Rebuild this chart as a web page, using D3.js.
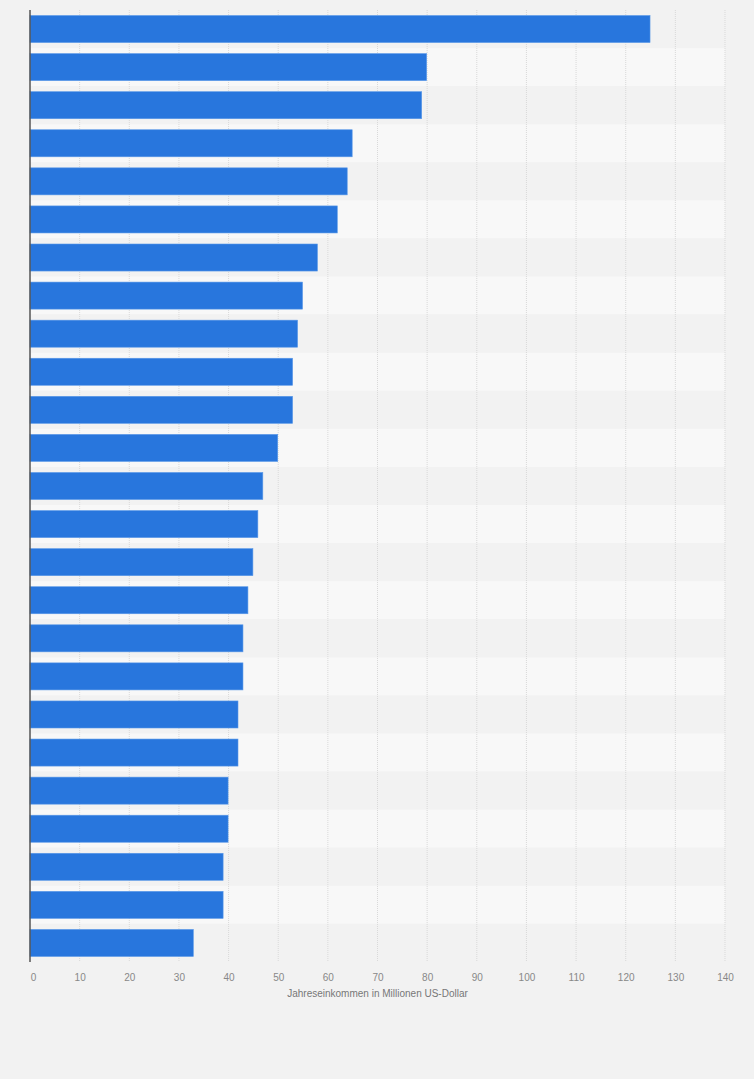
<!DOCTYPE html>
<html>
<head>
<meta charset="utf-8">
<script src="https://cdn.jsdelivr.net/npm/d3@7"></script>
<style>
  body { margin: 0; background: #f2f2f2; }
  text { font-family: "Liberation Sans", Arial, sans-serif; }
</style>
</head>
<body>
<div id="chart"></div>
<script>
// Data (Rang 1..25, labels not shown in the original)
var ranks = d3.range(1, 26).map(function(d) { return 'Rang ' + d; });
var incomes = [125, 80, 79, 65, 64, 62, 58, 55, 54, 53, 53, 50, 47, 46, 45, 44, 43, 43, 42, 42, 40, 40, 39, 39, 33];
var xTicks = [0, 10, 20, 30, 40, 50, 60, 70, 80, 90, 100, 110, 120, 130, 140];
var xTitle = 'Jahreseinkommen in Millionen US-Dollar';

// Set margin parameters
var margin = {top: 10, right: 29, bottom: 117, left: 30},
    width = 754 - margin.left - margin.right,
    height = 1079 - margin.top - margin.bottom;

var x = d3.scaleLinear().domain([0, 140]).range([0, width]);

var y = d3.scaleBand()
    .domain(ranks)
    .range([0, height])
    .paddingInner(0.29)
    .paddingOuter(0.145);

// band scale for the row stripes (no padding)
var yRow = d3.scaleBand().domain(ranks).range([0, height]);

var svg = d3.select('#chart')
    .append('svg')
    .attr('width', 754)
    .attr('height', 1079)
    .style('display', 'block');

svg.append('rect')
    .attr('width', 754)
    .attr('height', 1079)
    .attr('fill', '#f2f2f2');

var g = svg.append('g')
    .attr('transform', 'translate(' + margin.left + ',' + margin.top + ')');

// Alternating row stripes
g.selectAll('.row')
    .data(ranks)
    .enter().append('rect')
    .attr('class', 'row')
    .attr('x', 0)
    .attr('y', function(d) { return yRow(d); })
    .attr('width', width)
    .attr('height', yRow.bandwidth())
    .attr('fill', function(d, i) { return i % 2 ? '#f8f8f8' : '#f2f2f2'; });

// Vertical grid lines
g.selectAll('.grid')
    .data(xTicks.slice(1))
    .enter().append('line')
    .attr('class', 'grid')
    .attr('x1', function(d) { return x(d); })
    .attr('x2', function(d) { return x(d); })
    .attr('y1', 0)
    .attr('y2', height)
    .attr('stroke', '#d9d9d9')
    .attr('stroke-width', 1)
    .attr('stroke-dasharray', '1,1');

// Bars
g.selectAll('.bar')
    .data(incomes)
    .enter().append('rect')
    .attr('class', 'bar')
    .attr('x', x(0))
    .attr('y', function(d, i) { return y(ranks[i]); })
    .attr('width', function(d) { return x(d) - x(0) - 0.5; })
    .attr('height', y.bandwidth())
    .attr('fill', '#2876dd')
    .attr('stroke', '#5a98e8')
    .attr('stroke-width', 0.6);

// Left axis line
g.append('line')
    .attr('x1', 0).attr('x2', 0)
    .attr('y1', 0).attr('y2', height)
    .attr('stroke', '#555')
    .attr('stroke-width', 1.5);

// X axis tick labels
var xAxis = g.append('g')
    .attr('transform', 'translate(0,' + height + ')')
    .call(d3.axisBottom(x).tickValues(xTicks).tickSize(0).tickPadding(12));
xAxis.select('.domain').remove();
xAxis.selectAll('text')
    .attr('fill', '#888')
    .style('font-size', '10px')
    .attr('dx', function(d) { return d === 0 ? 3 : 0; });

// X axis title
g.append('text')
    .attr('x', width / 2)
    .attr('y', height + 35)
    .style('text-anchor', 'middle')
    .style('font-size', '10px')
    .attr('fill', '#777')
    .text(xTitle);
</script>
</body>
</html>
